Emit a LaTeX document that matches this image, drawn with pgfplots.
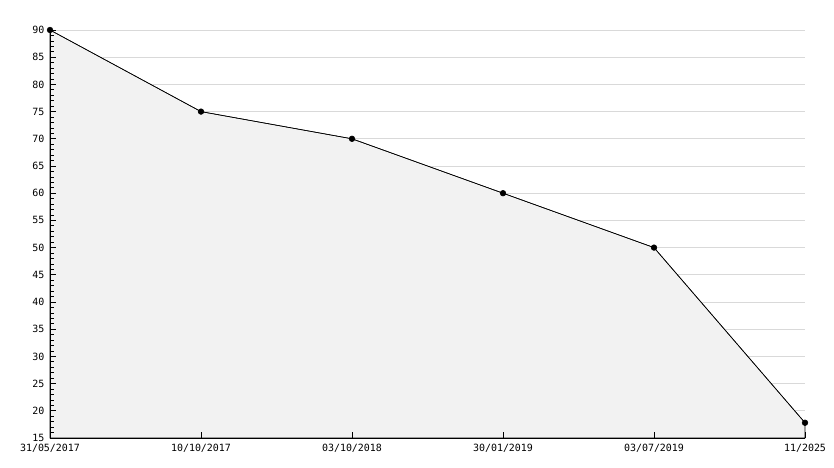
\documentclass[border=0pt]{standalone}
\usepackage{fontspec}
\setmonofont{DejaVu Sans Mono}
\usepackage{pgfplots}
\pgfplotsset{compat=1.18}
\definecolor{fillgray}{HTML}{F2F2F2}
\definecolor{gridgray}{HTML}{D9D9D9}
\begin{document}
\begin{tikzpicture}
\begin{axis}[
  name=ax,
  axis on top,
  scale only axis,
  width=755bp, height=408bp,
  xmin=0, xmax=5, ymin=15, ymax=90,
  axis x line=bottom, axis y line=left,
  axis line style={-, black, line width=0.9bp},
  xtick={0,1,2,3,4,5},
  xticklabels={31/05/2017,10/10/2017,03/10/2018,30/01/2019,03/07/2019,11/2025},
  ytick={15,20,...,90},
  minor y tick num=4,
  xtick align=inside, ytick align=inside,
  major tick length=6bp, minor tick length=4bp,
  every tick/.style={black, line width=0.7bp},
  tick label style={font=\ttfamily\fontsize{10}{11}\selectfont},
  /pgf/number format/assume math mode=true,
  xticklabel style={yshift=-3bp},
  yticklabel style={xshift=-2bp},
  clip=false,
]
\pgfplotsinvokeforeach{20,25,...,90}{\draw[gridgray, line width=0.8bp] (axis cs:0,#1) -- (axis cs:5,#1);}
\addplot[draw=black, line width=0.6bp, fill=fillgray] coordinates {(0,90) (1,75) (2,70) (3,60) (4,50) (5,17.8)} \closedcycle;
\addplot[draw=black, line width=0.6bp, mark=*, mark size=2.8bp, mark options={fill=black}]
  coordinates {(0,90) (1,75) (2,70) (3,60) (4,50) (5,17.8)};
\end{axis}
\pgfresetboundingbox
\useasboundingbox ([shift={(-50bp,-30bp)}]ax.south west) rectangle ([shift={(29bp,30bp)}]ax.north east);
\end{tikzpicture}
\end{document}
